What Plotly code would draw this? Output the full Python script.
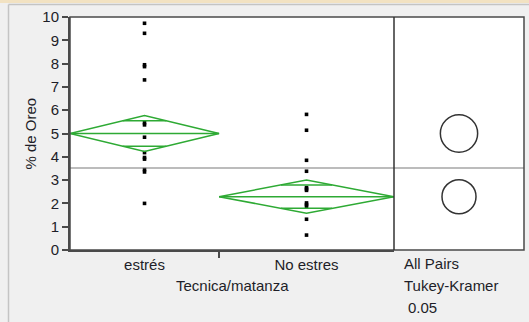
import numpy as np
import plotly.graph_objects as go

# ---- data -------------------------------------------------------------
groups = ["estrés", "No estres"]
group_n = [23, 27]                      # group sizes (set the band widths)
estres_values = [9.73, 9.30, 7.95, 7.87, 7.30, 5.46, 5.37, 4.84, 4.18,
                 3.97, 3.90, 3.45, 3.35, 2.00]
no_estres_values = [5.82, 5.14, 3.85, 3.38, 2.68, 2.62, 2.56, 2.02, 1.95,
                    1.88, 1.32, 0.64]
group_means = [5.00, 2.29]
ci_half = [0.77, 0.71]                  # 95% CI half-width of each mean
grand_mean = 3.52
circle_radius = [0.80, 0.73]            # Tukey-Kramer comparison circles
y_ticks = list(range(0, 11))

# ---- layout constants ----------------------------------------------------
W, H = 529, 322
ML, MR, MT, MB = 70, 5, 17, 72
plot_w = W - ML - MR
plot_h = H - MT - MB
main_frac = 324 / plot_w                # share of width for the oneway panel

FONT = "Liberation Sans, Arial, sans-serif"
TXT = "#1e1e28"
GREEN = "rgb(46,170,52)"
AX = "#4a4a4a"

edges = np.concatenate([[0], np.cumsum(group_n)])
centers = (edges[:-1] + edges[1:]) / 2
values = [estres_values, no_estres_values]

fig = go.Figure()

# points
for i, vals in enumerate(values):
    fig.add_trace(go.Scatter(
        x=[centers[i]] * len(vals), y=vals, mode="markers",
        marker=dict(symbol="square", size=3.6, color="black",
                    line=dict(width=0)),
        showlegend=False, hoverinfo="y"))

# means diamonds
for i in range(len(groups)):
    lo, hi, c = edges[i], edges[i + 1], centers[i]
    m, ci = group_means[i], ci_half[i]
    half = (hi - lo) / 2
    line = dict(color=GREEN, width=1.5)
    fig.add_trace(go.Scatter(
        x=[lo, c, hi, c, lo], y=[m, m + ci, m, m - ci, m],
        mode="lines", line=line, showlegend=False, hoverinfo="skip"))
    fig.add_trace(go.Scatter(
        x=[lo, hi], y=[m, m], mode="lines", line=line,
        showlegend=False, hoverinfo="skip"))
    d = ci / np.sqrt(2)
    w = half * (1 - d / ci)
    for s in (1, -1):
        fig.add_trace(go.Scatter(
            x=[c - w, c + w], y=[m + s * d, m + s * d], mode="lines",
            line=line, showlegend=False, hoverinfo="skip"))

shapes = []
# grand mean across both panels
shapes.append(dict(type="line", xref="paper", yref="y", x0=0, x1=1,
                   y0=grand_mean, y1=grand_mean,
                   line=dict(color="#7a7a7a", width=1.2)))
# comparison circles
for m, r in zip(group_means, circle_radius):
    shapes.append(dict(type="circle", xref="x2", yref="y",
                       x0=-r, x1=r, y0=m - r, y1=m + r,
                       line=dict(color="#333333", width=1.5)))
# frame and panel divider
shapes.append(dict(type="rect", xref="paper", yref="paper", x0=0, x1=1,
                   y0=0, y1=1, line=dict(color=AX, width=1.5)))
shapes.append(dict(type="line", xref="paper", yref="paper",
                   x0=main_frac, x1=main_frac, y0=0, y1=1,
                   line=dict(color="#333333", width=1.5)))


# window chrome around the report
def px_x(px):
    return (px - ML) / plot_w


def px_y(py):
    return (H - MB - py) / plot_h


shapes.append(dict(type="rect", xref="paper", yref="paper",
                   x0=px_x(0), x1=px_x(W), y0=px_y(3), y1=px_y(0),
                   fillcolor="#f2e2c2", line=dict(width=0), layer="below"))
shapes.append(dict(type="line", xref="paper", yref="paper",
                   x0=px_x(8.5), x1=px_x(W), y0=px_y(4.5), y1=px_y(4.5),
                   line=dict(color="#c4c4c4", width=1.5)))
shapes.append(dict(type="line", xref="paper", yref="paper",
                   x0=px_x(8.5), x1=px_x(8.5), y0=px_y(4.5), y1=px_y(H),
                   line=dict(color="#c4c4c4", width=1.5)))

annotations = [
    dict(text="% de Oreo", xref="paper", yref="paper", x=px_x(30), y=0.5,
         textangle=-90, showarrow=False, xanchor="center", yanchor="middle",
         font=dict(size=15, color=TXT, family=FONT)),
    dict(text="Tecnica/matanza", xref="paper", yref="paper",
         x=main_frac / 2, y=px_y(285), showarrow=False,
         xanchor="center", yanchor="middle",
         font=dict(size=15, color=TXT, family=FONT)),
    dict(text="All Pairs", xref="paper", yref="paper", x=px_x(402),
         y=px_y(263), showarrow=False, xanchor="left", yanchor="middle",
         font=dict(size=15, color=TXT, family=FONT)),
    dict(text="Tukey-Kramer", xref="paper", yref="paper", x=px_x(402),
         y=px_y(285), showarrow=False, xanchor="left", yanchor="middle",
         font=dict(size=15, color=TXT, family=FONT)),
    dict(text="0.05", xref="paper", yref="paper", x=px_x(406),
         y=px_y(307), showarrow=False, xanchor="left", yanchor="middle",
         font=dict(size=15, color=TXT, family=FONT)),
]

x2_half = (plot_w - 324) / 2 / (plot_h / 10)   # equal pixel scale to y

fig.update_layout(
    width=W, height=H,
    margin=dict(l=ML, r=MR, t=MT, b=MB, pad=0),
    paper_bgcolor="#f0f0f0", plot_bgcolor="white",
    font=dict(family=FONT, color=TXT, size=15),
    shapes=shapes, annotations=annotations, showlegend=False,
    xaxis=dict(domain=[0, main_frac], range=[edges[0], edges[-1]],
               tickvals=list(centers), ticktext=groups, ticks="",
               showgrid=False, zeroline=False, showline=True,
               linecolor=AX, linewidth=2, fixedrange=True,
               tickfont=dict(size=15, color=TXT),
               minor=dict(tickvals=[float(edges[1])], ticks="outside",
                          ticklen=6, tickwidth=1.5, tickcolor=AX)),
    xaxis2=dict(domain=[main_frac, 1], range=[-x2_half, x2_half],
                anchor="y", showticklabels=False, ticks="",
                showgrid=False, zeroline=False, showline=False),
    yaxis=dict(range=[0, 10], tickvals=y_ticks, ticks="outside",
               ticklen=6, tickwidth=1.5, tickcolor=AX,
               showgrid=False, zeroline=False, showline=True,
               linecolor=AX, linewidth=2,
               tickfont=dict(size=15, color=TXT)),
)

fig.add_trace(go.Scatter(x=[0], y=[grand_mean], xaxis="x2", yaxis="y",
                         mode="markers", marker=dict(opacity=0),
                         hoverinfo="skip", showlegend=False))

fig.write_html("out.html")
